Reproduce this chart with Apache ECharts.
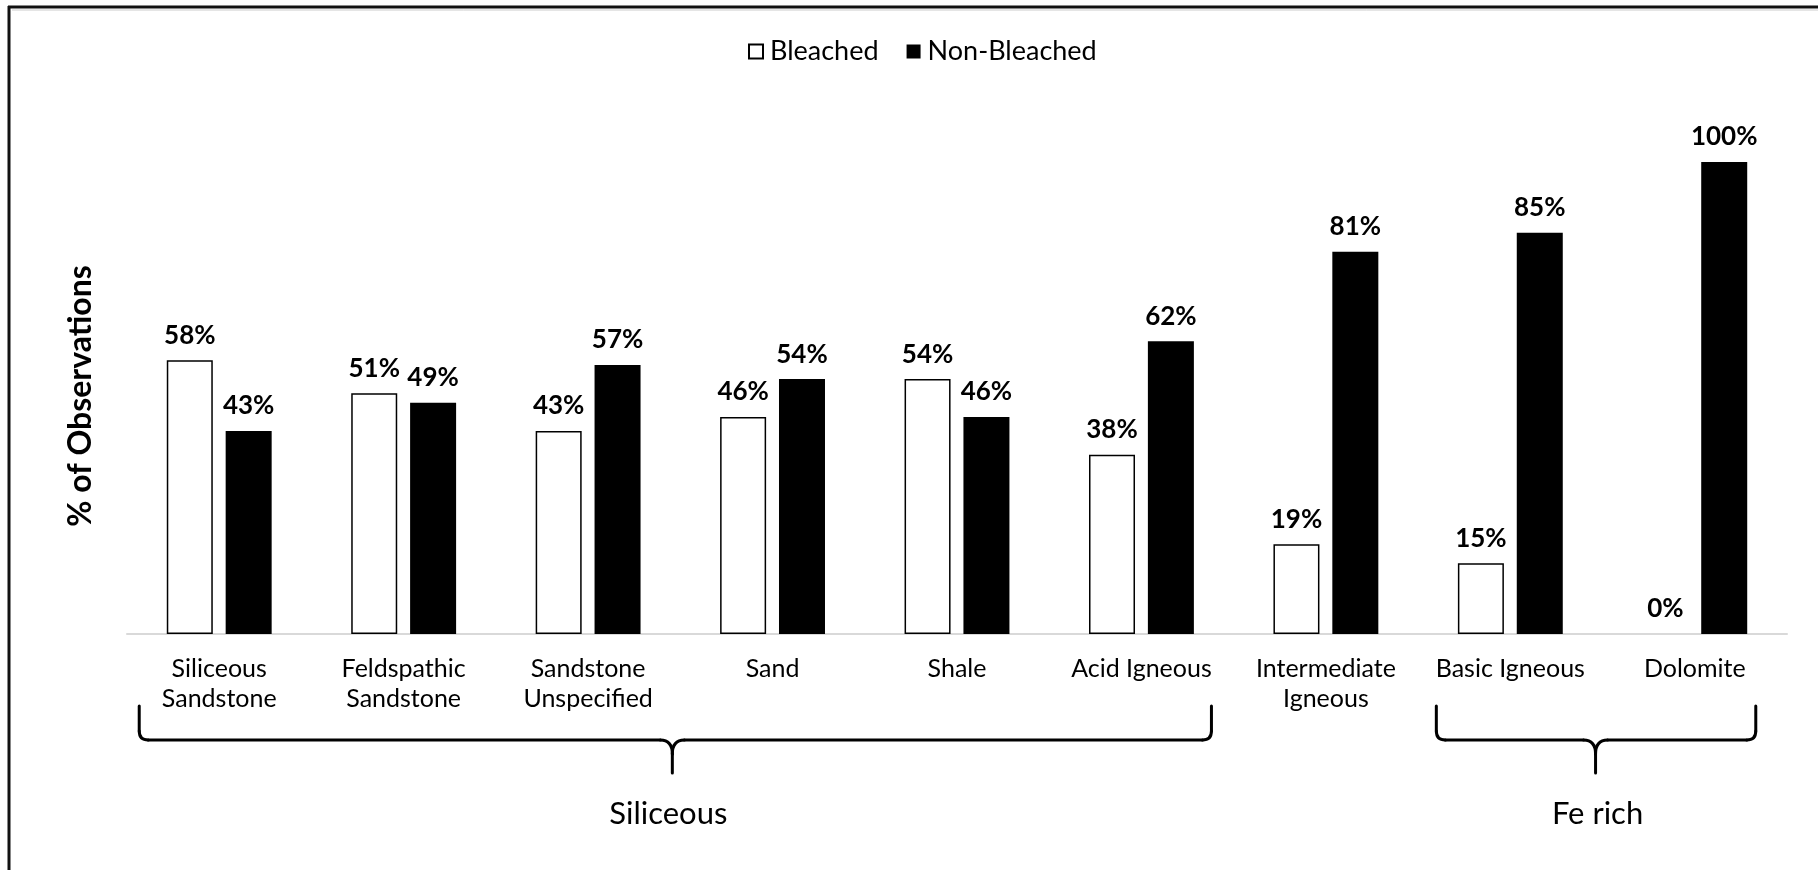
<!DOCTYPE html>
<html>
<head>
<meta charset="utf-8">
<script src="https://cdn.jsdelivr.net/npm/echarts@6/dist/echarts.min.js"></script>
<style>
  html, body { margin: 0; padding: 0; background: #fff; }
  #chart { width: 1818px; height: 870px; }
</style>
</head>
<body>
<div id="chart"></div>
<script>
const categories = [
  'Siliceous\nSandstone', 'Feldspathic\nSandstone', 'Sandstone\nUnspecified',
  'Sand', 'Shale', 'Acid Igneous', 'Intermediate\nIgneous', 'Basic Igneous', 'Dolomite'
];
const bleached = [58, 51, 43, 46, 54, 38, 19, 15, 0];
const nonBleached = [43, 49, 57, 54, 46, 62, 81, 85, 100];
// groups drawn as braces under the axis: [first index, last index, label]
const groups = [
  [0, 5, 'Siliceous'],
  [7, 8, 'Fe rich']
];

const FONT = 'Lato';
const chart = echarts.init(document.getElementById('chart'));

const labelStyle = {
  show: true,
  position: 'top',
  distance: 12,
  formatter: '{c}%',
  color: '#000',
  fontFamily: FONT,
  fontWeight: 'bold',
  fontSize: 26
};

chart.setOption({
  animation: false,
  backgroundColor: '#fff',
  legend: {
    top: 33,
    left: 743,
    itemWidth: 14,
    itemHeight: 14,
    itemGap: 28,
    icon: 'rect',
    textStyle: { fontFamily: FONT, fontSize: 27, color: '#000', padding: [0, 0, 0, 2] },
    data: ['Bleached', 'Non-Bleached']
  },
  grid: { left: 127, right: 31, top: 162, bottom: 236 },
  xAxis: {
    type: 'category',
    data: categories,
    axisTick: { show: false },
    axisLine: { lineStyle: { color: '#d9d9d9', width: 2 } },
    axisLabel: {
      interval: 0,
      margin: 20,
      color: '#000',
      fontFamily: FONT,
      fontSize: 25,
      lineHeight: 30
    }
  },
  yAxis: {
    type: 'value',
    min: 0,
    max: 100,
    show: false
  },
  series: [
    {
      name: 'Bleached',
      type: 'bar',
      barWidth: 46,
      barGap: '28%',
      itemStyle: { color: '#fff', borderColor: '#000', borderWidth: 1.5 },
      label: labelStyle,
      // a zero bar has no outline in the original
      data: bleached.map(function (v) {
        return v === 0 ? { value: v, itemStyle: { borderWidth: 0 } } : v;
      })
    },
    {
      name: 'Non-Bleached',
      type: 'bar',
      barWidth: 46,
      itemStyle: { color: '#000' },
      label: labelStyle,
      data: nonBleached
    }
  ]
});

function px(i) {
  return chart.convertToPixel({ xAxisIndex: 0 }, categories[i]);
}

const braceStyle = { fill: 'none', stroke: '#000', lineWidth: 3, lineCap: 'round' };

function braceParts(x1, x2, xm, yTop, yMid, yBot) {
  const r = 9;
  const c = 12;
  const seg = function (a, b, d, e) {
    return { type: 'line', shape: { x1: a, y1: b, x2: d, y2: e }, style: braceStyle };
  };
  const curve = function (a, b, cx, cy, d, e) {
    return {
      type: 'bezierCurve',
      shape: { x1: a, y1: b, cpx1: cx, cpy1: cy, x2: d, y2: e },
      style: braceStyle
    };
  };
  return [
    seg(x1, yTop, x1, yMid - r),
    curve(x1, yMid - r, x1, yMid, x1 + r, yMid),
    seg(x1 + r, yMid, xm - c, yMid),
    curve(xm - c, yMid, xm, yMid, xm, yMid + 14),
    seg(x2, yTop, x2, yMid - r),
    curve(x2, yMid - r, x2, yMid, x2 - r, yMid),
    seg(x2 - r, yMid, xm + c, yMid),
    curve(xm + c, yMid, xm, yMid, xm, yMid + 14),
    seg(xm, yMid + 14, xm, yBot)
  ];
}

const graphics = [
  // frame of the original figure (left and top edges)
  { type: 'line', shape: { x1: 9, y1: 6, x2: 9, y2: 870 }, style: { stroke: '#111', lineWidth: 3 } },
  { type: 'line', shape: { x1: 8, y1: 7, x2: 1818, y2: 7 }, style: { stroke: '#111', lineWidth: 3 } },
  { type: 'line', shape: { x1: 12, y1: 10, x2: 1818, y2: 10 }, style: { stroke: '#ccc', lineWidth: 1 } },
  {
    type: 'text',
    x: 81,
    y: 396,
    rotation: Math.PI / 2,
    style: {
      text: '% of Observations',
      align: 'center',
      verticalAlign: 'middle',
      fill: '#000',
      font: 'bold 32px ' + FONT
    }
  }
];

const braceOffsets = [
  { l: -80, r: 70, m: -8, t: -4 },
  { l: -74, r: 61, m: -7, t: 2 }
];

groups.forEach(function (g, k) {
  const a = px(g[0]);
  const b = px(g[1]);
  const o = braceOffsets[k];
  const xm = (a + b) / 2 + o.m;
  braceParts(a + o.l, b + o.r, xm, 706, 740, 773).forEach(function (el) {
    graphics.push(el);
  });
  graphics.push({
    type: 'text',
    x: xm + o.t,
    y: 814,
    style: {
      text: g[2],
      align: 'center',
      verticalAlign: 'middle',
      fill: '#000',
      font: '31px ' + FONT
    }
  });
});

chart.setOption({ graphic: graphics });
</script>
</body>
</html>
